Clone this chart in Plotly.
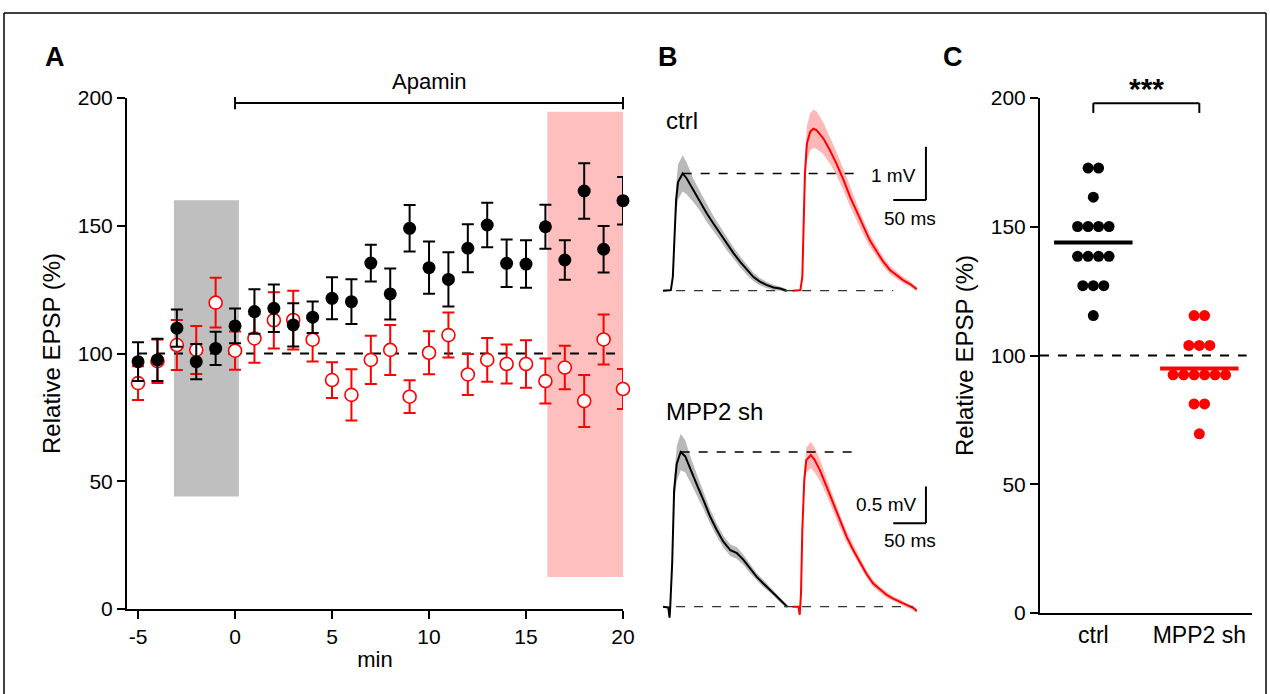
import numpy as np
import plotly.graph_objects as go

# ---------------- data ----------------
# Panel A: time course (min) of relative EPSP (%)
minutes = list(range(-5, 21))
ctrl_mean = [96.8, 97.5, 109.9, 96.8, 102.0, 110.8, 116.4, 117.7, 111.2, 114.2, 121.6, 120.3, 135.4,
             123.3, 149.0, 133.6, 129.0, 141.2, 150.3, 135.3, 135.0, 149.6, 136.6, 163.6, 140.8, 159.8]
ctrl_sem = [7.6, 8.3, 7.3, 6.9, 6.5, 6.8, 8.7, 9.3, 8.5, 6.2, 8.2, 8.8, 7.2,
            10.0, 9.1, 10.2, 10.6, 9.4, 8.7, 9.3, 9.3, 8.6, 7.7, 10.9, 9.1, 9.3]
sh_mean = [88.4, 97.0, 103.3, 101.4, 119.9, 101.1, 105.9, 113.0, 113.1, 105.4, 89.6, 83.8, 97.5,
           101.4, 83.1, 100.3, 107.2, 91.8, 97.5, 95.9, 95.9, 89.2, 94.5, 81.4, 105.5, 86.1]
sh_sem = [6.6, 8.5, 9.8, 9.4, 9.7, 7.5, 9.5, 11.0, 11.5, 8.5, 7.0, 10.0, 9.4,
          9.8, 6.4, 8.4, 8.8, 8.0, 8.6, 7.6, 9.3, 8.8, 8.5, 10.2, 9.8, 7.8]
x_ticks = [-5, 0, 5, 10, 15, 20]
x_ticklabels = ["-5", "0", "5", "10", "15", "20"]
y_ticks = [0, 50, 100, 150, 200]
baseline_window = [-3.15, 0.2]       # grey box (min)
baseline_window_y = [44, 160]
late_window = [16.1, 20.1]           # pink box (min)
late_window_y = [12.5, 194.6]
apamin_span = [0, 20]

# Panel B: average EPSP traces (ms, mV)
ctrl_black_t = [0, 12, 15, 17, 20, 23, 30, 36, 46, 57, 67, 77, 87, 97, 108, 118, 128, 138, 148, 158, 169, 179, 189]
ctrl_black_mv = [0, 0.01, 0.26, 0.95, 1.7, 2.04, 2.2, 2.11, 1.89, 1.67, 1.45, 1.26, 1.08, 0.89, 0.7, 0.54,
                 0.39, 0.26, 0.17, 0.11, 0.06, 0.04, 0]
ctrl_black_sem = [0.02, 0.02, 0.05, 0.15, 0.28, 0.33, 0.34, 0.3, 0.22, 0.18, 0.16, 0.14, 0.13, 0.12, 0.11,
                  0.1, 0.09, 0.08, 0.07, 0.06, 0.05, 0.04, 0.03]
ctrl_red_t = [0, 12, 15, 17, 19, 22, 27, 32, 37, 47, 57, 67, 78, 88, 98, 108, 118, 129, 139, 149, 159, 169, 179, 190]
ctrl_red_mv = [0, 0.01, 0.26, 1.26, 2.2, 2.76, 2.98, 3.04, 3.01, 2.86, 2.64, 2.39, 2.08, 1.76, 1.48, 1.2,
               0.95, 0.73, 0.54, 0.39, 0.29, 0.2, 0.13, 0.03]
ctrl_red_sem = [0.02, 0.02, 0.05, 0.15, 0.28, 0.33, 0.35, 0.36, 0.35, 0.3, 0.25, 0.22, 0.2, 0.18, 0.16,
                0.14, 0.12, 0.1, 0.09, 0.08, 0.07, 0.06, 0.05, 0.04]

sh_black_t = [0, 8, 10, 11, 14, 17, 21, 27, 34, 41, 52, 62, 72, 82, 92, 103, 113, 123, 133, 143, 153, 164, 174, 184, 190]
sh_black_mv = [0, -0.01, -0.15, -0.01, 0.59, 1.59, 1.95, 2.11, 2.05, 1.89, 1.66, 1.45, 1.23, 1.05, 0.89,
               0.77, 0.73, 0.64, 0.52, 0.41, 0.32, 0.23, 0.14, 0.05, 0]
sh_black_sem = [0.01, 0.01, 0.02, 0.02, 0.08, 0.18, 0.24, 0.25, 0.22, 0.18, 0.14, 0.12, 0.1, 0.09, 0.08,
                0.08, 0.08, 0.07, 0.06, 0.05, 0.05, 0.04, 0.04, 0.03, 0.02]
sh_red_t = [0, 9, 11, 13, 15, 18, 21, 28, 34, 42, 52, 62, 72, 83, 93, 103, 113, 123, 134, 144, 154, 164, 174, 185, 190]
sh_red_mv = [0, 0, -0.11, 0.18, 1.05, 1.73, 2.0, 2.07, 2.0, 1.86, 1.64, 1.41, 1.18, 0.95, 0.77, 0.61,
             0.45, 0.32, 0.23, 0.16, 0.11, 0.07, 0.02, -0.02, -0.06]
sh_red_sem = [0.01, 0.01, 0.02, 0.03, 0.08, 0.14, 0.17, 0.18, 0.17, 0.15, 0.12, 0.1, 0.09, 0.08, 0.07,
              0.06, 0.05, 0.05, 0.04, 0.04, 0.03, 0.03, 0.03, 0.03, 0.03]
red_offset_ms = 198   # apamin trace drawn to the right of the baseline trace

# Panel C: individual cells (relative EPSP %)
groups = ["ctrl", "MPP2 sh"]
ctrl_cells = [172.8, 172.8, 161.5, 150.1, 150.1, 150.1, 150.1, 138.5, 138.5, 138.5, 138.5,
              127.1, 127.1, 127.1, 115.5]
sh_cells = [115.5, 115.5, 103.9, 103.9, 103.9, 92.5, 92.5, 92.5, 92.5, 92.5, 92.5, 81.2, 81.2, 69.6]

# ---------------- layout helpers ----------------
W, H = 1270, 694
RED = "#ff0000"
FONT = "Liberation Sans, Arial, Helvetica, sans-serif"


def dom_x(p0, p1):
    return [p0 / W, p1 / W]


def dom_y(top, bottom):
    return [1 - bottom / H, 1 - top / H]


DOM_XA, DOM_YA = dom_x(127, 623), dom_y(98, 609)
DOM_XB = dom_x(650, 950)
DOM_YB1, DOM_YB2 = dom_y(100, 310), dom_y(380, 630)
DOM_XC, DOM_YC = dom_x(1040, 1252), dom_y(98, 613)

XA_RANGE = [-5.57, 20.0]
YA_RANGE = [0, 200]
XB_RANGE = [-19.9, 438.8]
YB1_RANGE = [-0.362, 3.578]
YB2_RANGE = [-0.318, 3.093]
XC_RANGE = [0.497, 2.497]
YC_RANGE = [0, 200]


def frac(v, r):
    return (v - r[0]) / (r[1] - r[0])


def to_paper(v, r, dom):
    return dom[0] + frac(v, r) * (dom[1] - dom[0])


fig = go.Figure()

# ---------------- Panel A ----------------
fig.add_trace(go.Scatter(
    x=minutes, y=sh_mean, mode="markers", xaxis="x", yaxis="y", cliponaxis=False,
    marker=dict(size=13, color="white", line=dict(color=RED, width=1.6)),
    error_y=dict(type="data", array=sh_sem, color=RED, thickness=2, width=6),
))
fig.add_trace(go.Scatter(
    x=minutes, y=ctrl_mean, mode="markers", xaxis="x", yaxis="y", cliponaxis=False,
    marker=dict(size=13, color="black", line=dict(width=0)),
    error_y=dict(type="data", array=ctrl_sem, color="black", thickness=2, width=6),
))

shapes = []
shapes.append(dict(type="rect", xref="x", yref="y", layer="below",
                   x0=baseline_window[0], x1=baseline_window[1],
                   y0=baseline_window_y[0], y1=baseline_window_y[1],
                   fillcolor="#bfbfbf", line=dict(width=0)))
shapes.append(dict(type="rect", xref="x", yref="y", layer="below",
                   x0=late_window[0], x1=late_window[1],
                   y0=late_window_y[0], y1=late_window_y[1],
                   fillcolor="#ffbfbf", line=dict(width=0)))
shapes.append(dict(type="line", xref="x", yref="y", layer="below",
                   x0=minutes[0], x1=minutes[-1], y0=100, y1=100,
                   line=dict(color="black", width=2, dash="dash")))
# Apamin bracket
bx0, bx1 = to_paper(apamin_span[0], XA_RANGE, DOM_XA), to_paper(apamin_span[1], XA_RANGE, DOM_XA)
by = to_paper(198, YA_RANGE, DOM_YA)
bcap0, bcap1 = to_paper(195.6, YA_RANGE, DOM_YA), to_paper(200.4, YA_RANGE, DOM_YA)
shapes.append(dict(type="line", xref="paper", yref="paper", x0=bx0, x1=bx1, y0=by, y1=by,
                   line=dict(color="black", width=2)))
for bx in (bx0, bx1):
    shapes.append(dict(type="line", xref="paper", yref="paper", x0=bx, x1=bx, y0=bcap0, y1=bcap1,
                       line=dict(color="black", width=2)))

# ---------------- Panel B ----------------
def band(t, m, s, off, xa, ya, color, fill):
    t = np.asarray(t, float) + off
    m = np.asarray(m, float)
    s = np.asarray(s, float)
    fig.add_trace(go.Scatter(x=np.concatenate([t, t[::-1]]), y=np.concatenate([m + s, (m - s)[::-1]]),
                             mode="lines", fill="toself", fillcolor=fill, line=dict(width=0),
                             xaxis=xa, yaxis=ya, hoverinfo="skip"))
    fig.add_trace(go.Scatter(x=t, y=m, mode="lines", line=dict(color=color, width=2),
                             xaxis=xa, yaxis=ya))


band(ctrl_black_t, ctrl_black_mv, ctrl_black_sem, 0, "x2", "y2", "black", "rgba(0,0,0,0.28)")
band(ctrl_red_t, ctrl_red_mv, ctrl_red_sem, red_offset_ms, "x2", "y2", RED, "rgba(255,0,0,0.28)")
band(sh_black_t, sh_black_mv, sh_black_sem, 0, "x3", "y3", "black", "rgba(0,0,0,0.28)")
band(sh_red_t, sh_red_mv, sh_red_sem, red_offset_ms, "x3", "y3", RED, "rgba(255,0,0,0.28)")

# reference dashed lines (peak of baseline trace and zero)
for xa, ya, tt, mv, t_end, z0, z_end in (("x2", "y2", ctrl_black_t, ctrl_black_mv, 297, 20, 352),
                                         ("x3", "y3", sh_black_t, sh_black_mv, 291, 20, 382)):
    ipk = int(np.argmax(mv))
    shapes.append(dict(type="line", xref=xa, yref=ya, x0=tt[ipk], x1=t_end, y0=mv[ipk], y1=mv[ipk],
                       line=dict(color="black", width=1.6, dash="dash")))
    shapes.append(dict(type="line", xref=xa, yref=ya, x0=z0, x1=z_end, y0=0, y1=0,
                       line=dict(color="#333333", width=1.3, dash="dash")))

# scale bars
for xa, ya, low, length in (("x2", "y2", 1.7, 1.0), ("x3", "y3", 1.14, 0.5)):
    shapes.append(dict(type="line", xref=xa, yref=ya, x0=402, x1=402, y0=low, y1=low + length,
                       line=dict(color="black", width=2)))
    shapes.append(dict(type="line", xref=xa, yref=ya, x0=352, x1=402, y0=low, y1=low,
                       line=dict(color="black", width=2)))

annotations = []
txt = dict(showarrow=False, font=dict(family=FONT, size=19, color="black"))
big = dict(showarrow=False, font=dict(family=FONT, size=24, color="black"))
annotations += [
    dict(text="ctrl", x=2, y=3.2, xref="x2", yref="y2", xanchor="left", yanchor="middle", **big),
    dict(text="1 mV", x=390, y=2.17, xref="x2", yref="y2", xanchor="right", yanchor="middle", **txt),
    dict(text="50 ms", x=377, y=1.36, xref="x2", yref="y2", xanchor="center", yanchor="middle", **txt),
    dict(text="MPP2 sh", x=2, y=2.66, xref="x3", yref="y3", xanchor="left", yanchor="middle", **big),
    dict(text="0.5 mV", x=392, y=1.39, xref="x3", yref="y3", xanchor="right", yanchor="middle", **txt),
    dict(text="50 ms", x=377, y=0.91, xref="x3", yref="y3", xanchor="center", yanchor="middle", **txt),
    dict(text="Apamin", x=to_paper(sum(apamin_span) / 2, XA_RANGE, DOM_XA),
         y=to_paper(206.5, YA_RANGE, DOM_YA), xref="paper", yref="paper",
         xanchor="center", yanchor="middle", showarrow=False, font=dict(family=FONT, size=22, color="black")),
]

# ---------------- Panel C ----------------
def swarm(vals, center, step):
    vals = np.asarray(vals, float)
    xs = np.zeros_like(vals)
    for v in np.unique(vals):
        idx = np.where(vals == v)[0]
        n = len(idx)
        xs[idx] = center + (np.arange(n) - (n - 1) / 2) * step
    return xs


for i, (cells, col) in enumerate(((ctrl_cells, "black"), (sh_cells, RED))):
    xpos = i + 1
    fig.add_trace(go.Scatter(x=swarm(cells, xpos, 0.099), y=cells, mode="markers", xaxis="x4", yaxis="y4",
                             cliponaxis=False, marker=dict(size=11, color=col, line=dict(width=0))))
    m = float(np.mean(cells))
    fig.add_trace(go.Scatter(x=[xpos - 0.37, xpos + 0.37], y=[m, m], mode="lines", xaxis="x4", yaxis="y4",
                             line=dict(color=col, width=4)))

shapes.append(dict(type="line", xref="x4 domain", yref="y4", layer="below", x0=0, x1=0.975, y0=100, y1=100,
                   line=dict(color="black", width=2, dash="dash")))
cx0, cx1 = to_paper(1, XC_RANGE, DOM_XC), to_paper(2, XC_RANGE, DOM_XC)
cy, cyl = to_paper(198, YC_RANGE, DOM_YC), to_paper(194.2, YC_RANGE, DOM_YC)
shapes.append(dict(type="line", xref="paper", yref="paper", x0=cx0, x1=cx1, y0=cy, y1=cy,
                   line=dict(color="black", width=2)))
for cx in (cx0, cx1):
    shapes.append(dict(type="line", xref="paper", yref="paper", x0=cx, x1=cx, y0=cyl, y1=cy,
                       line=dict(color="black", width=2)))
annotations.append(dict(text="<b>***</b>", x=to_paper(1.5, XC_RANGE, DOM_XC), y=to_paper(203.5, YC_RANGE, DOM_YC),
                        xref="paper", yref="paper", xanchor="center", yanchor="middle", showarrow=False,
                        font=dict(family=FONT, size=30, color="black")))

# panel letters
for letter, px, py in (("A", 55, 57), ("B", 668, 57), ("C", 953, 57)):
    annotations.append(dict(text="<b>%s</b>" % letter, x=px / W, y=1 - py / H, xref="paper", yref="paper",
                            xanchor="center", yanchor="middle",
                            showarrow=False, font=dict(family=FONT, size=27, color="black")))

# figure frame
for x0, y0, x1, y1 in ((4, 13, 1266, 13), (4, 13, 4, 694), (1266, 13, 1266, 694)):
    shapes.append(dict(type="line", xref="paper", yref="paper", x0=x0 / W, x1=x1 / W,
                       y0=1 - y0 / H, y1=1 - y1 / H, line=dict(color="black", width=1.5)))

axis_common = dict(showgrid=False, zeroline=False, showline=True, linecolor="black", linewidth=2,
                   ticks="outside", ticklen=8, tickwidth=2, tickcolor="black", automargin=False,
                   tickfont=dict(family=FONT, size=21, color="black"))
hidden = dict(visible=False, showgrid=False, zeroline=False, automargin=False)
title_font = dict(family=FONT, size=24, color="black")

fig.update_layout(
    template="none",
    width=W, height=H, margin=dict(l=0, r=0, t=0, b=0),
    paper_bgcolor="white", plot_bgcolor="rgba(0,0,0,0)",
    showlegend=False, font=dict(family=FONT, color="black"),
    xaxis=dict(domain=DOM_XA, range=XA_RANGE, tickvals=x_ticks, ticktext=x_ticklabels, anchor="y",
               title=dict(text="min", font=dict(family=FONT, size=22), standoff=4), **axis_common),
    yaxis=dict(domain=DOM_YA, range=YA_RANGE, tickvals=y_ticks, anchor="x",
               title=dict(text="Relative EPSP (%)", font=title_font, standoff=10),
               **axis_common),
    xaxis2=dict(domain=DOM_XB, range=XB_RANGE, anchor="y2", **hidden),
    yaxis2=dict(domain=DOM_YB1, range=YB1_RANGE, anchor="x2", **hidden),
    xaxis3=dict(domain=DOM_XB, range=XB_RANGE, anchor="y3", **hidden),
    yaxis3=dict(domain=DOM_YB2, range=YB2_RANGE, anchor="x3", **hidden),
    xaxis4=dict(domain=DOM_XC, range=XC_RANGE, tickvals=[1, 2], ticktext=groups, anchor="y4",
                **{**axis_common, "ticks": "", "tickfont": dict(family=FONT, size=23, color="black")}),
    yaxis4=dict(domain=DOM_YC, range=YC_RANGE, tickvals=y_ticks, anchor="x4",
                title=dict(text="Relative EPSP (%)", font=title_font, standoff=10),
                **axis_common),
    shapes=shapes, annotations=annotations,
)

fig.write_html("out.html", config={"displayModeBar": False},
               post_script="document.body.style.margin='0px';")
